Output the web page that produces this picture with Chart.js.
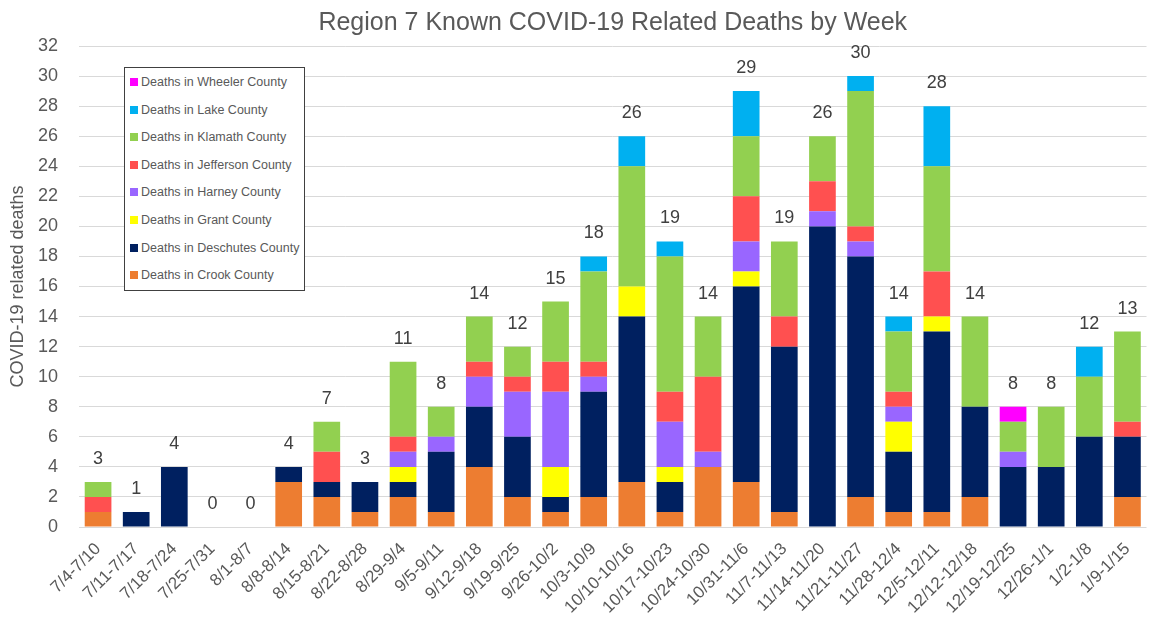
<!DOCTYPE html>
<html>
<head>
<meta charset="utf-8">
<script src="https://cdn.jsdelivr.net/npm/chart.js@4/dist/chart.umd.min.js"></script>
<style>
  html, body { margin: 0; padding: 0; background: #fff; }
  #wrap { position: relative; width: 1154px; height: 622px; }
  #legend { position: absolute; left: 124px; top: 67px; width: 181px; height: 224px;
    border: 1px solid #404040; background: #fff; box-sizing: border-box;
    font-family: "Liberation Sans", Arial, sans-serif; font-size: 12.5px; color: #595959; }
  #legend .item { position: absolute; left: 5px; height: 14px; line-height: 14px; white-space: nowrap; }
  #legend .sw { display: inline-block; width: 8px; height: 8px; margin-right: 3px; vertical-align: 0px; }
</style>
</head>
<body>
<div id="wrap">
  <canvas id="c" width="1154" height="622"></canvas>
  <div id="legend"></div>
</div>
<script>
const weeks = ["7/4-7/10","7/11-7/17","7/18-7/24","7/25-7/31","8/1-8/7","8/8-8/14","8/15-8/21","8/22-8/28","8/29-9/4","9/5-9/11","9/12-9/18","9/19-9/25","9/26-10/2","10/3-10/9","10/10-10/16","10/17-10/23","10/24-10/30","10/31-11/6","11/7-11/13","11/14-11/20","11/21-11/27","11/28-12/4","12/5-12/11","12/12-12/18","12/19-12/25","12/26-1/1","1/2-1/8","1/9-1/15"];

const crook     = [1,0,0,0,0,3,2,1,2,1,4,2,1,2,3,1,4,3,1,0,2,1,1,2,0,0,0,2];
const deschutes = [0,1,4,0,0,1,1,2,1,4,4,4,1,7,11,2,0,13,11,20,16,4,12,6,4,4,6,4];
const grant     = [0,0,0,0,0,0,0,0,1,0,0,0,2,0,2,1,0,1,0,0,0,2,1,0,0,0,0,0];
const harney    = [0,0,0,0,0,0,0,0,1,1,2,3,5,1,0,3,1,2,0,1,1,1,0,0,1,0,0,0];
const jefferson = [1,0,0,0,0,0,2,0,1,0,1,1,2,1,0,2,5,3,2,2,1,1,3,0,0,0,0,1];
const klamath   = [1,0,0,0,0,0,2,0,5,2,3,2,4,6,8,9,4,4,5,3,9,4,7,6,2,4,4,6];
const lake      = [0,0,0,0,0,0,0,0,0,0,0,0,0,1,2,1,0,3,0,0,1,1,4,0,0,0,2,0];
const wheeler   = [0,0,0,0,0,0,0,0,0,0,0,0,0,0,0,0,0,0,0,0,0,0,0,0,1,0,0,0];

const yTicks = [0,2,4,6,8,10,12,14,16,18,20,22,24,26,28,30,32];

const series = [
  { label: "Deaths in Crook County",     data: crook,     color: "#ED7D31" },
  { label: "Deaths in Deschutes County", data: deschutes, color: "#002060" },
  { label: "Deaths in Grant County",     data: grant,     color: "#FFFF00" },
  { label: "Deaths in Harney County",    data: harney,    color: "#9966FF" },
  { label: "Deaths in Jefferson County", data: jefferson, color: "#FF5050" },
  { label: "Deaths in Klamath County",   data: klamath,   color: "#92D050" },
  { label: "Deaths in Lake County",      data: lake,      color: "#00B0F0" },
  { label: "Deaths in Wheeler County",   data: wheeler,   color: "#FF00FF" }
];

const FONT = "'Liberation Sans', Arial, sans-serif";
const TXT = "#595959";

const totalsPlugin = {
  id: "totals",
  afterDatasetsDraw(chart) {
    const ctx = chart.ctx;
    const y = chart.scales.y;
    const meta = chart.getDatasetMeta(0);
    ctx.save();
    ctx.font = "18px " + FONT;
    ctx.fillStyle = "#404040";
    ctx.textAlign = "center";
    ctx.textBaseline = "middle";
    weeks.forEach((w, i) => {
      let sum = 0;
      chart.data.datasets.forEach(ds => { sum += ds.data[i]; });
      const px = meta.data[i].x;
      const py = y.getPixelForValue(sum) - 23;
      ctx.fillText(String(sum), px, py);
    });
    ctx.restore();
  }
};

const chart = new Chart(document.getElementById("c"), {
  type: "bar",
  data: {
    labels: weeks,
    datasets: series.map(s => ({
      label: s.label, data: s.data, backgroundColor: s.color,
      borderWidth: 0, barPercentage: 0.7, categoryPercentage: 1.0
    }))
  },
  options: {
    responsive: false,
    animation: false,
    layout: { padding: { left: 0, right: 6, top: 0, bottom: 0 } },
    plugins: {
      legend: { display: false },
      tooltip: { enabled: false },
      title: {
        display: true,
        fullSize: false,
        text: "Region 7 Known COVID-19 Related Deaths by Week",
        color: TXT,
        font: { family: FONT, size: 25, weight: "normal" },
        padding: { top: 8, bottom: 8 }
      }
    },
    scales: {
      x: {
        stacked: true,
        grid: { display: false, drawTicks: false },
        border: { display: false },
        ticks: {
          color: TXT, font: { family: FONT, size: 17 },
          maxRotation: 45, minRotation: 45, autoSkip: false, padding: 12
        },
        afterFit(scale) { scale.height = 95; }
      },
      y: {
        stacked: true,
        min: 0, max: 32,
        afterBuildTicks(scale) { scale.ticks = yTicks.map(v => ({ value: v })); },
        grid: { color: "#d9d9d9", drawTicks: false, lineWidth: 1 },
        border: { display: false },
        ticks: { color: TXT, font: { family: FONT, size: 18 }, padding: 21 },
        title: {
          display: true, text: "COVID-19 related deaths", color: TXT,
          font: { family: FONT, size: 18 }, padding: { top: 7, bottom: 0 }
        },
        afterFit(scale) { scale.width = 79; }
      }
    }
  },
  plugins: [totalsPlugin]
});

// HTML legend (reverse order, as in the reference)
const lg = document.getElementById("legend");
series.slice().reverse().forEach((s, k) => {
  const d = document.createElement("div");
  d.className = "item";
  d.style.top = (7 + k * 27.6) + "px";
  d.innerHTML = '<span class="sw" style="background:' + s.color + '"></span>' + s.label;
  lg.appendChild(d);
});
</script>
</body>
</html>
